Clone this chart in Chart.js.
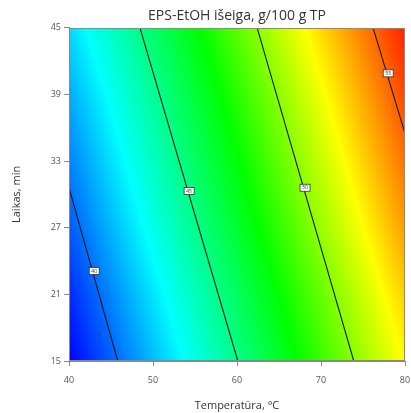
<!DOCTYPE html>
<html><head><meta charset="utf-8">
<script src="https://cdn.jsdelivr.net/npm/chart.js@4.4.1/dist/chart.umd.min.js"></script>
<style>html,body{margin:0;padding:0;background:#fff;}#wrap{width:411px;height:413px;}</style>
</head><body><div id="wrap"><canvas id="c" width="411" height="413"></canvas></div>
<script>
// Axis ticks
const tempTicks = [40, 50, 60, 70, 80];
const timeTicks = [15, 21, 27, 33, 39, 45];
// Yield grid (g/100 g TP): rows = time 15..45, columns = temperature 40..80
const yieldGrid = [
  [37.8, 41.4, 45.0, 48.6, 52.2],
  [38.6, 42.2, 45.8, 49.4, 53.0],
  [39.5, 43.1, 46.7, 50.3, 53.9],
  [40.3, 43.9, 47.5, 51.1, 54.7],
  [41.1, 44.7, 48.3, 51.9, 55.5],
  [42.0, 45.6, 49.2, 52.8, 56.2]
];
// Colour scale stops
const colorStopValues = [37.8, 42.7, 47.6, 52.1, 56.8];
const colorStopRGB = [[0,0,255],[0,255,255],[0,255,0],[255,255,0],[255,0,0]];
// Contour lines (temperature, time)
const contourLevels = ['40', '45', '50', '55'];
const contour40 = [{x:40, y:30.6}, {x:45.8, y:15}];
const contour45 = [{x:48.45, y:45}, {x:60.1, y:15}];
const contour50 = [{x:62.4, y:45}, {x:73.9, y:15}];
const contour55 = [{x:76.2, y:45}, {x:80, y:35.5}];
const labelTemp = [43.0, 54.3, 68.1, 78.0];
const labelTime = [23.1, 30.3, 30.6, 40.9];

function field(T, t) {
  let fi = (T - tempTicks[0]) / (tempTicks[1] - tempTicks[0]);
  let fj = (t - timeTicks[0]) / (timeTicks[1] - timeTicks[0]);
  fi = Math.max(0, Math.min(tempTicks.length - 1.0001, fi));
  fj = Math.max(0, Math.min(timeTicks.length - 1.0001, fj));
  const i = Math.floor(fi), j = Math.floor(fj), u = fi - i, v = fj - j;
  const a = yieldGrid[j][i], b = yieldGrid[j][i+1], c = yieldGrid[j+1][i], d = yieldGrid[j+1][i+1];
  return a*(1-u)*(1-v) + b*u*(1-v) + c*(1-u)*v + d*u*v;
}
function colorOf(val) {
  const s = colorStopValues;
  if (val <= s[0]) return colorStopRGB[0];
  for (let k = 0; k < s.length - 1; k++) {
    if (val <= s[k+1]) {
      const f = (val - s[k]) / (s[k+1] - s[k]);
      const A = colorStopRGB[k], B = colorStopRGB[k+1];
      return [A[0]+(B[0]-A[0])*f, A[1]+(B[1]-A[1])*f, A[2]+(B[2]-A[2])*f];
    }
  }
  return colorStopRGB[colorStopRGB.length-1];
}

const heatPlugin = {
  id: 'heat',
  beforeDatasetsDraw(chart) {
    const {ctx, chartArea: a, scales: {x, y}} = chart;
    const L = Math.round(a.left), Tp = Math.round(a.top);
    const w = Math.round(a.right) - L, h = Math.round(a.bottom) - Tp;
    const off = document.createElement('canvas'); off.width = w; off.height = h;
    const oc = off.getContext('2d'); const img = oc.createImageData(w, h);
    for (let j = 0; j < h; j++) {
      const t = y.getValueForPixel(Tp + j + 0.5);
      for (let i = 0; i < w; i++) {
        const T = x.getValueForPixel(L + i + 0.5);
        const c = colorOf(field(T, t));
        const k = (j*w + i)*4;
        img.data[k] = c[0]; img.data[k+1] = c[1]; img.data[k+2] = c[2]; img.data[k+3] = 255;
      }
    }
    oc.putImageData(img, 0, 0);
    ctx.drawImage(off, L, Tp);
  },
  afterDatasetsDraw(chart) {
    const {ctx, chartArea: a, scales: {x, y}} = chart;
    ctx.save();
    ctx.strokeStyle = '#8a8a8a'; ctx.lineWidth = 1;
    ctx.strokeRect(Math.round(a.left)+0.5, Math.round(a.top)+0.5, Math.round(a.right-a.left)-1, Math.round(a.bottom-a.top)-1);
    ctx.font = '5px "Open Sans"'; ctx.textAlign = 'center'; ctx.textBaseline = 'middle';
    for (let k = 0; k < contourLevels.length; k++) {
      const px = x.getPixelForValue(labelTemp[k]), py = y.getPixelForValue(labelTime[k]);
      ctx.fillStyle = '#fff'; ctx.fillRect(px-5, py-3.5, 10, 7);
      ctx.strokeStyle = '#333'; ctx.lineWidth = 0.8; ctx.strokeRect(px-5, py-3.5, 10, 7);
      ctx.fillStyle = '#333'; ctx.fillText(contourLevels[k], px, py+0.3);
    }
    ctx.restore();
  }
};

const lineStyle = {type:'scatter', showLine:true, borderColor:'#1a1a1a', borderWidth:1.1, pointRadius:0, fill:false};

new Chart(document.getElementById('c'), {
  type: 'scatter',
  data: { datasets: [
    Object.assign({data: contour40}, lineStyle),
    Object.assign({data: contour45}, lineStyle),
    Object.assign({data: contour50}, lineStyle),
    Object.assign({data: contour55}, lineStyle)
  ]},
  plugins: [heatPlugin],
  options: {
    responsive: false, animation: false,
    layout: {padding: {left: 0, right: 6, top: 0, bottom: 0}},
    plugins: {
      legend: {display: false}, tooltip: {enabled: false},
      title: {display: true, fullSize: false, text: 'EPS-EtOH išeiga, g/100 g TP', color: '#333',
        font: {family: '"Open Sans"', size: 14, weight: 'normal'}, padding: {top: 8, bottom: 3}}
    },
    scales: {
      x: {
        type: 'linear', min: tempTicks[0], max: tempTicks[tempTicks.length-1],
        afterBuildTicks: s => { s.ticks = tempTicks.map(v => ({value: v})); },
        afterFit: s => { s.height = 52; s.paddingLeft = 0; s.paddingRight = 0; },
        ticks: {color: '#555', font: {family: '"Open Sans"', size: 9}, padding: 9, maxRotation: 0},
        grid: {drawOnChartArea: false, drawTicks: true, tickLength: 5, color: '#888'},
        border: {display: true, color: '#888'},
        title: {display: true, text: 'Temperatūra, °C', color: '#333', font: {family: '"Open Sans"', size: 11}, padding: {top: 0, bottom: 1}}
      },
      y: {
        type: 'linear', min: timeTicks[0], max: timeTicks[timeTicks.length-1],
        afterBuildTicks: s => { s.ticks = timeTicks.map(v => ({value: v})); },
        afterFit: s => { s.width = 69; s.paddingTop = 0; s.paddingBottom = 0; },
        ticks: {color: '#555', font: {family: '"Open Sans"', size: 9}, padding: 3},
        grid: {drawOnChartArea: false, drawTicks: true, tickLength: 5, color: '#888'},
        border: {display: true, color: '#888'},
        title: {display: true, text: 'Laikas, min', color: '#333', font: {family: '"Open Sans"', size: 11}, padding: {top: 10, bottom: 0}}
      }
    }
  }
});
</script></body></html>
